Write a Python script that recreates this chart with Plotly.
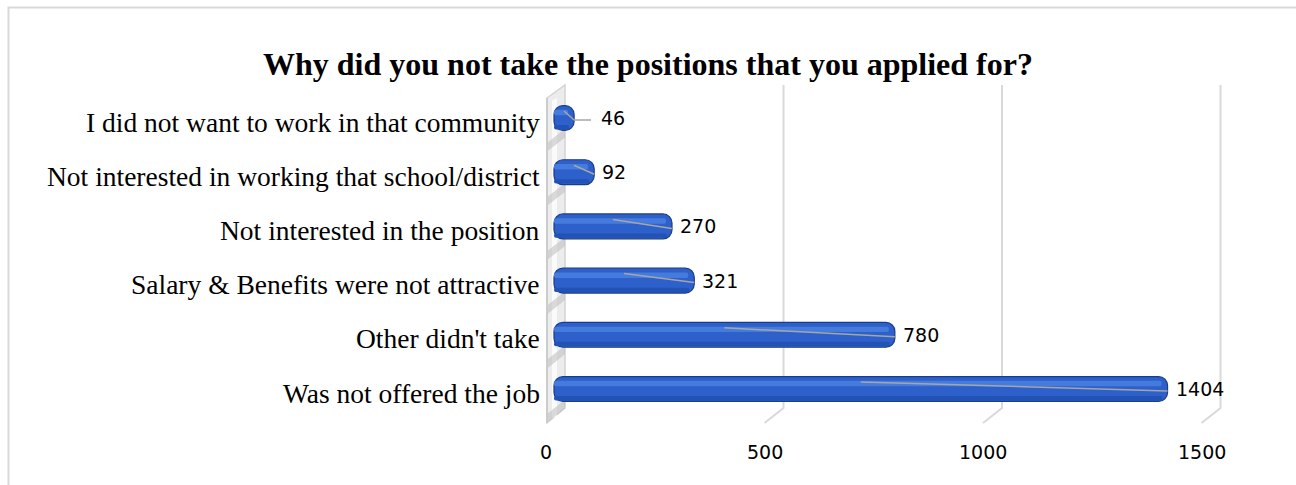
import plotly.graph_objects as go

# Survey responses, listed top to bottom as they appear on the chart
categories = [
    "I did not want to work in that community",
    "Not interested in working that school/district",
    "Not interested in the position",
    "Salary & Benefits were not attractive",
    "Other didn't take",
    "Was not offered the job",
]
responses = [46, 92, 270, 321, 780, 1404]
tick_values = [0, 500, 1000, 1500]
tick_labels = ["0", "500", "1000", "1500"]
title_text = "Why did you not take the positions that you applied for?"

W, H = 1296, 485

# Axis scale (pixels per unit) and placement of the front plane
PX_PER_UNIT = 0.437
X0_PX = 554
ROW_PX = 54.2
Y0_PX = 389  # centre of the bottom row

x_range = [-X0_PX / PX_PER_UNIT, (W - X0_PX) / PX_PER_UNIT]
y_range = [(Y0_PX - H) / ROW_PX, Y0_PX / ROW_PX]


def ux(px):
    """Horizontal pixel distance -> data units."""
    return px / PX_PER_UNIT


def uy(px):
    """Vertical pixel distance -> row units."""
    return px / ROW_PX


n = len(categories)
ypos = [n - 1 - i for i in range(n)]

BAR_W = 0.46
DEPTH = ux(11)          # back wall offset
FLOOR_DX = ux(19)       # floor diagonal, horizontal part
TOP_BACK = uy(Y0_PX - 85)
TOP_FRONT = uy(Y0_PX - 98)
BOT_BACK = -uy(408 - Y0_PX)
BOT_FRONT = -uy(423 - Y0_PX)

# value labels never sit closer to the wall than this
MIN_LABEL_X = ux(45)

fig = go.Figure()

# Main bar body
fig.add_trace(go.Bar(
    y=ypos, x=responses, orientation="h", base=0,
    width=BAR_W, offset=-BAR_W / 2,
    marker=dict(color="#2d60cb", line=dict(color="#1b3c88", width=1.2), cornerradius=9),
    hoverinfo="skip", showlegend=False,
))
# Lower shading band
fig.add_trace(go.Bar(
    y=ypos, x=[max(v - ux(5), 0) for v in responses], orientation="h", base=0,
    width=0.08, offset=-BAR_W / 2 + 0.02,
    marker=dict(color="#2252b4", line=dict(width=0), cornerradius=3),
    hoverinfo="skip", showlegend=False,
))
# Upper highlight band
fig.add_trace(go.Bar(
    y=ypos, x=[max(v - ux(6), 0) for v in responses], orientation="h", base=0,
    width=0.1, offset=0.05,
    marker=dict(color="#467bde", line=dict(width=0), cornerradius=4),
    hoverinfo="skip", showlegend=False,
))

shapes = []

# Chart frame
shapes.append(dict(type="path", xref="paper", yref="paper",
                   path=f"M {8.5 / W},0 L {8.5 / W},{1 - 7.5 / H} L 1,{1 - 7.5 / H}",
                   line=dict(color="#d9d9d9", width=2)))

# Side wall at zero
wx_front = -ux(7)
wx_back = DEPTH
shapes.append(dict(type="path", xref="x", yref="y",
                   path=(f"M {wx_front},{TOP_FRONT} L {wx_back},{TOP_BACK} "
                         f"L {wx_back},{BOT_BACK} L {wx_front},{BOT_FRONT} Z"),
                   fillcolor="#ececec", line=dict(color="#d4d4d4", width=1.5), layer="below"))
# whitish band on the wall
shapes.append(dict(type="path", xref="x", yref="y",
                   path=(f"M {wx_front + ux(5)},{TOP_FRONT - 0.05} L {wx_front + ux(10)},{TOP_FRONT} "
                         f"L {wx_front + ux(10)},{BOT_FRONT + 0.1} L {wx_front + ux(5)},{BOT_FRONT + 0.1} Z"),
                   fillcolor="#fafafa", line=dict(width=0), layer="below"))
# diagonal shadow stripes between rows
for yp in ypos:
    yc = yp - 0.5
    shapes.append(dict(type="path", xref="x", yref="y",
                       path=(f"M {wx_front},{yc - 0.12} L {wx_back},{yc + 0.14} "
                             f"L {wx_back},{yc + 0.30} L {wx_front},{yc + 0.04} Z"),
                       fillcolor="#b8b8b8", opacity=0.5, line=dict(width=0), layer="below"))
shapes.append(dict(type="line", xref="x", yref="y", x0=wx_front, x1=wx_front,
                   y0=TOP_FRONT, y1=BOT_FRONT, line=dict(color="#cccccc", width=2), layer="below"))

# Gridlines on the back plane with floor returns
for t in tick_values[1:]:
    xb = t + DEPTH
    shapes.append(dict(type="path", xref="x", yref="y",
                       path=f"M {xb},{TOP_BACK} L {xb},{BOT_BACK} L {xb - FLOOR_DX},{BOT_FRONT}",
                       line=dict(color="#d9d9d9", width=2), layer="below"))

# Value label anchor per bar
label_x = [max(v + ux(6), MIN_LABEL_X) for v in responses]

# Leader lines to the value labels
for yp, v, lx in zip(ypos, responses, label_x):
    y_start = yp + uy(7)
    y_end = yp - uy(2)
    shapes.append(dict(type="path", xref="x", yref="y",
                       path=f"M {v / 2},{y_start} L {v},{y_end} L {max(v, lx - ux(8))},{y_end}",
                       line=dict(color="#a6a6a6", width=1.5)))

annotations = []

# Category labels
for yp, c in zip(ypos, categories):
    annotations.append(dict(x=-ux(12), y=yp - uy(4), xref="x", yref="y", text=c,
                            xanchor="right", yanchor="middle", showarrow=False,
                            font=dict(family="Liberation Serif, Times New Roman, serif",
                                      size=27.5, color="#000000")))
# Value labels
for yp, v, lx in zip(ypos, responses, label_x):
    annotations.append(dict(x=lx, y=yp, xref="x", yref="y", text=str(v),
                            xanchor="left", yanchor="middle", showarrow=False,
                            font=dict(family="DejaVu Sans, sans-serif", size=19, color="#000000")))
# Axis tick labels
for t, lab in zip(tick_values, tick_labels):
    annotations.append(dict(x=t - ux(8), y=-uy(452 - Y0_PX), xref="x", yref="y", text=lab,
                            xanchor="center", yanchor="middle", showarrow=False,
                            font=dict(family="DejaVu Sans, sans-serif", size=19, color="#000000")))
# Title
annotations.append(dict(x=0.5, y=1 - 64 / H, xref="paper", yref="paper", text=f"<b>{title_text}</b>",
                        xanchor="center", yanchor="middle", showarrow=False,
                        font=dict(family="Liberation Serif, Times New Roman, serif",
                                  size=32, color="#000000")))

fig.update_layout(
    width=W, height=H,
    margin=dict(l=0, r=0, t=0, b=0),
    paper_bgcolor="#ffffff", plot_bgcolor="#ffffff",
    barmode="overlay",
    xaxis=dict(range=x_range, visible=False, fixedrange=True),
    yaxis=dict(range=y_range, visible=False, fixedrange=True),
    shapes=shapes, annotations=annotations,
    showlegend=False,
)

fig.write_html("out.html", config={"displayModeBar": False})
